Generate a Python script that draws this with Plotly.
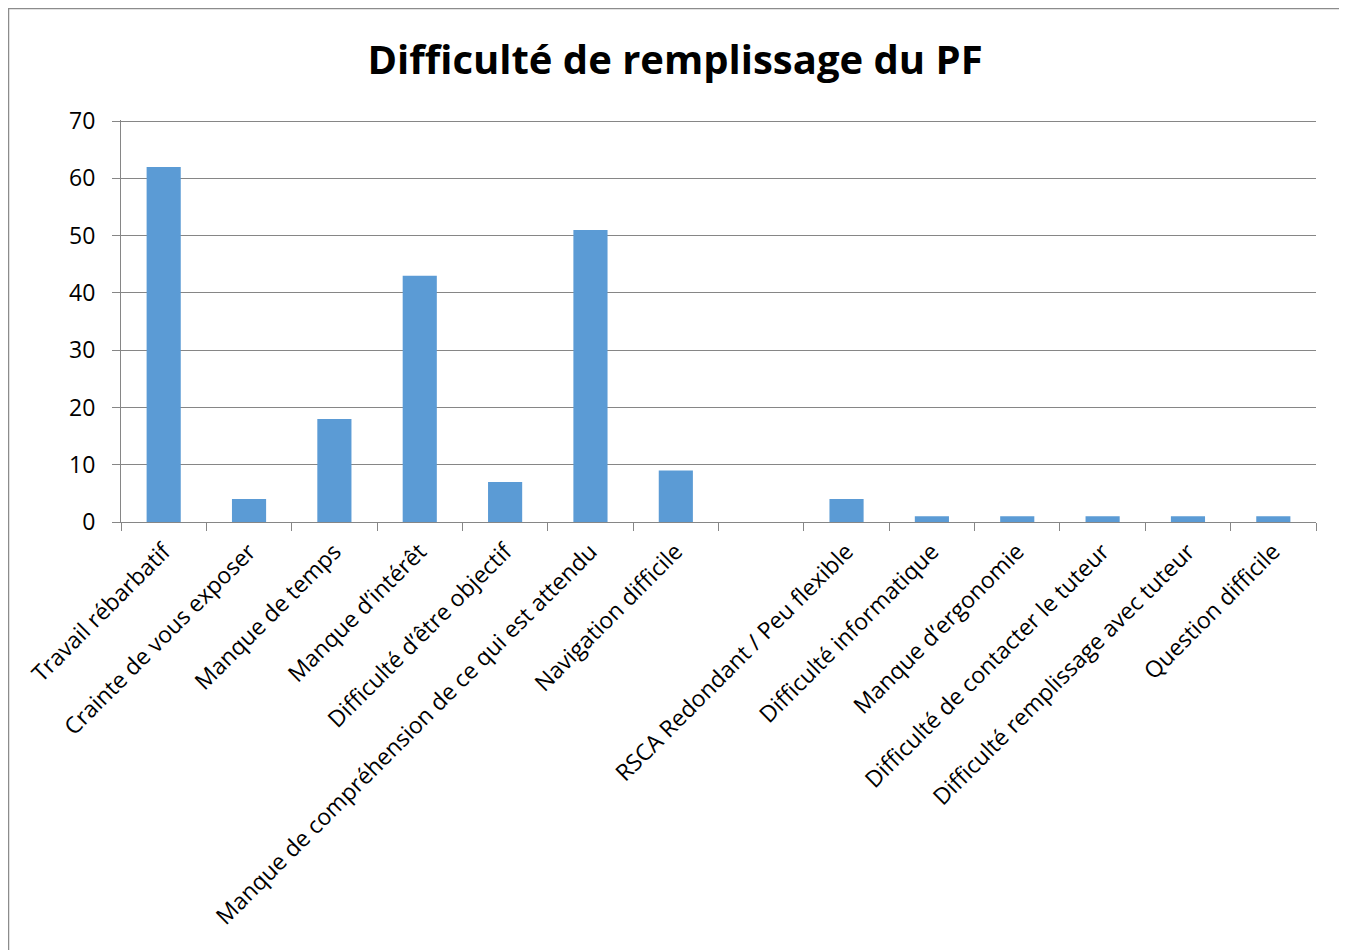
import plotly.graph_objects as go

categories = [
    "Travail rébarbatif",
    "Crainte de vous exposer",
    "Manque de temps",
    "Manque d’intérêt",
    "Difficulté d’être objectif",
    "Manque de compréhension de ce qui est attendu",
    "Navigation difficile",
    " ",
    "RSCA Redondant / Peu flexible",
    "Difficulté informatique",
    "Manque d’ergonomie",
    "Difficulté de contacter le tuteur",
    "Difficulté remplissage avec tuteur",
    "Question difficile",
]
counts = [62, 4, 18, 43, 7, 51, 9, None, 4, 1, 1, 1, 1, 1]
y_ticks = [0, 10, 20, 30, 40, 50, 60, 70]

# the page body adds an 8px offset, so the figure is sized to fit the window
OFF = 8
W, H = 1347 - OFF, 950 - OFF
L, T = 121 - OFF, 120 - OFF
R = W - (1316 - OFF)
B = H - (522 - OFF)
pw, ph = W - L - R, H - T - B


def px_x(p):
    return (p - OFF - L) / pw


def px_y(p):
    return (H - B - (p - OFF)) / ph


fig = go.Figure()
fig.add_trace(go.Bar(
    x=categories, y=counts,
    marker=dict(color="#5B9BD5", line=dict(width=0)),
    showlegend=False,
))

# outer chart border
fig.add_shape(
    type="rect", xref="paper", yref="paper",
    x0=px_x(8.5), x1=px_x(1344), y0=px_y(980), y1=px_y(8.5),
    line=dict(color="#8C8C8C", width=1.5), fillcolor="rgba(0,0,0,0)",
    layer="below",
)

fig.update_xaxes(
    type="category", tickangle=-45, tickson="boundaries",
    ticks="outside", ticklen=8, tickcolor="#868686",
    showline=True, linecolor="#868686", linewidth=1,
    showgrid=False, tickfont=dict(size=23, color="#000"),
    ticklabelstandoff=6,
)
fig.update_yaxes(
    range=[0, 70.2], tickvals=y_ticks, ticks="outside", ticklen=8,
    tickcolor="#868686", showline=True, linecolor="#868686",
    gridcolor="#868686", gridwidth=1, zeroline=False,
    tickfont=dict(size=23, color="#000"),
    ticklabelstandoff=12,
)
fig.update_layout(
    width=W, height=H,
    title=dict(text="<b>Difficulté de remplissage du PF</b>",
               x=(675 - OFF) / W, xanchor="center",
               y=1 - (60 - OFF) / H, yanchor="middle",
               font=dict(size=40, color="#000")),
    font=dict(family="Open Sans"),
    bargap=0.6,
    plot_bgcolor="#FFFFFF", paper_bgcolor="#FFFFFF",
    margin=dict(l=L, r=R, t=T, b=B),
)

fig.write_html("out.html")
